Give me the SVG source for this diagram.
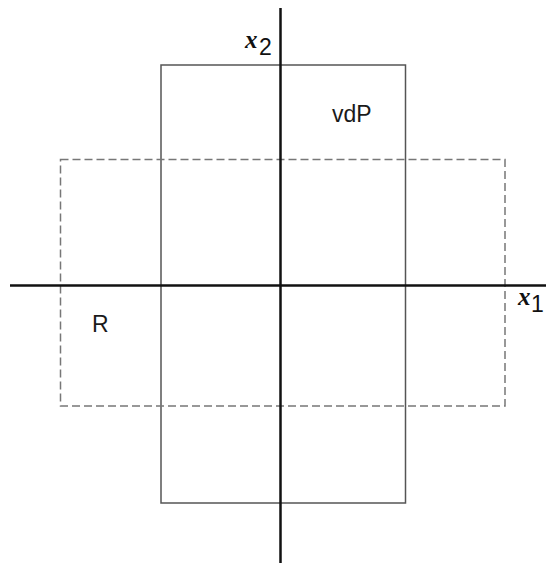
<svg xmlns="http://www.w3.org/2000/svg" width="546" height="563" viewBox="0 0 546 563">
  <style>
    .axis { stroke: #111; stroke-width: 2.5; fill: none; }
    .box { stroke: #555; stroke-width: 1.5; fill: none; }
    .dash { stroke: #777; stroke-width: 1.5; fill: none; stroke-dasharray: 8 4; }
    .lbl { font-family: "Liberation Sans", Arial, sans-serif; font-size: 23px; fill: #1a1a1a; }
    .var { font-family: "Liberation Serif", "Times New Roman", serif; font-style: italic; font-weight: bold; font-size: 25px; fill: #111; }
    .sub { font-family: "Liberation Sans", Arial, sans-serif; font-size: 23px; fill: #111; }
  </style>
  <rect width="546" height="563" fill="#fff"/>
  <g id="region-vdP">
    <rect class="box" x="161" y="65" width="244.5" height="438"/>
    <text class="lbl" x="332" y="122">vdP</text>
  </g>
  <g id="region-R">
    <rect class="dash" x="60.5" y="159.5" width="444.5" height="246.5"/>
    <text class="lbl" x="92" y="332">R</text>
  </g>
  <g id="axes">
    <line class="axis" x1="10" y1="285.5" x2="546" y2="285.5"/>
    <line class="axis" x1="280.5" y1="8" x2="280.5" y2="563"/>
    <text x="245" y="48"><tspan class="var">x</tspan><tspan class="sub" x="259" y="55">2</tspan></text>
    <text x="518" y="305"><tspan class="var">x</tspan><tspan class="sub" x="531" y="312">1</tspan></text>
  </g>
</svg>
